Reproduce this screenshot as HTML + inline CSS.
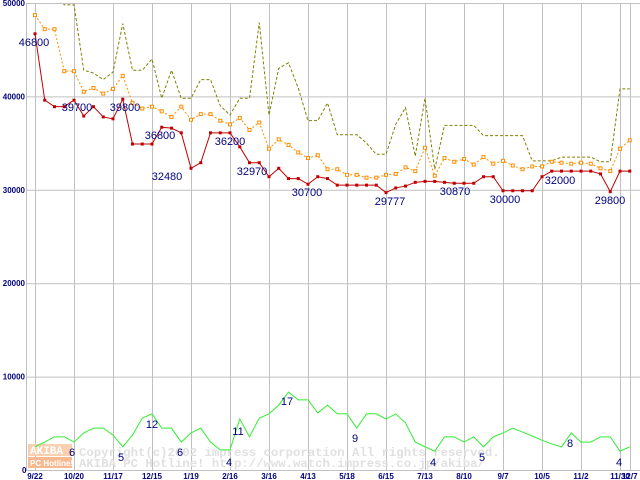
<!DOCTYPE html>
<html><head><meta charset="utf-8"><style>
body{margin:0;background:#fff;}
svg{display:block;font-family:"Liberation Sans",sans-serif;}
</style></head><body>
<svg id="chart" width="640" height="480" viewBox="0 0 640 480" xmlns="http://www.w3.org/2000/svg">
<defs><clipPath id="plot"><rect x="26" y="4" width="614" height="467"/></clipPath></defs>
<g id="grid"></g>
<g id="watermark">
  <rect x="28" y="444" width="44" height="12" fill="#f8d0b0"/>
  <rect x="28" y="457" width="44" height="11" fill="#f8b890"/>
  <text x="30" y="454" font-family="Liberation Mono,monospace" font-weight="bold" font-size="11" fill="#fff">AKIBA</text>
  <text x="30" y="466" font-family="Liberation Sans,sans-serif" font-weight="bold" font-size="8" fill="#fff">PC Hotline!</text>
  <text x="79" y="456" font-family="Liberation Mono,monospace" font-weight="bold" font-size="12.3" fill="#e0e0e0">Copyright(c)2002 impress corporation All rights reserved.</text>
  <text x="79" y="467" font-family="Liberation Mono,monospace" font-weight="bold" font-size="12.3" fill="#e0e0e0">AKIBA PC Hotline!  http://www.watch.impress.co.jp/akiba/</text>
</g>
<g id="series" clip-path="url(#plot)"></g>
<g id="labels"></g>
</svg>
<script>
const xTickLabels=["9/22","10/20","11/17","12/15","1/19","2/16","3/16","4/13","5/18","6/15","7/13","8/10","9/7","10/5","11/2","11/30","12/7"];
const xTickWeeks=[0,4,8,12,16,20,24,28,32,36,40,44,48,52,56,60,61];
const yTicks=[0,10000,20000,30000,40000,50000];
const minPrice=[46700,39600,38900,38900,39600,37900,38900,37800,37600,39700,34900,34900,34900,36700,36600,36100,32300,32900,36100,36100,36100,34600,32900,32900,31400,32300,31200,31200,30600,31400,31200,30500,30500,30500,30500,30500,29700,30200,30400,30800,30900,30900,30800,30700,30700,30700,31400,31400,29900,29900,29900,29900,31400,32000,32000,32000,32000,32000,31700,29800,32000,32000];
const avgPrice=[48700,47200,47200,42700,42700,40500,40900,40300,40800,42200,39300,38700,38900,38400,37800,38900,37500,38100,38100,37400,37000,37700,36400,37200,34400,35400,34800,34000,33400,33700,32200,32200,31600,31600,31300,31300,31600,31700,32400,32000,34500,31500,33400,33000,33300,32700,33500,32800,33100,32600,32200,32500,32500,33000,32900,32800,32900,32800,32300,32000,34400,35300];
const maxPrice=[50500,51500,51500,49800,49800,42800,42500,41800,42600,47800,42800,42800,44000,39800,42800,39800,39800,41800,41800,39000,38000,39800,39800,47900,38000,43000,43600,40900,37400,37400,39300,35900,35900,35900,35000,33800,33800,37000,38800,33600,39800,32200,36900,36900,36900,36900,35800,35800,35800,35800,35800,33100,33100,33100,33500,33500,33500,33500,33000,33000,40800,40800];
const shopCount=[4.4,5.5,6.7,6.7,5.5,7.6,8.7,8.7,7.1,4.4,7.1,11.0,12.0,8.7,8.7,5.5,7.6,8.7,5.5,3.7,3.7,10.8,6.7,11.0,12.0,14.0,17.0,15.2,15.2,12.2,14.0,12.0,12.0,8.7,12.0,12.0,10.8,12.0,9.9,5.5,4.4,3.4,6.7,6.7,5.5,6.7,4.4,6.7,7.6,8.7,7.8,6.9,5.9,5.1,4.4,7.6,5.5,5.5,6.7,6.7,3.4,4.4];
const priceLabels=[[0,"46800",34,46],[1,"39700",77,111],[9,"39800",125,111],[13,"36800",160,139],[16,"32480",167,180],[18,"36200",230,145],[22,"32970",252,175],[28,"30700",307,196],[36,"29777",390,205],[44,"30870",455,195],[48,"30000",505,203],[53,"32000",560,184],[59,"29800",610,204]];
const countLabels=[["6",72,456],["5",121,461],["12",152,428],["6",180,456],["4",229,466],["11",238,435],["17",287,405],["9",355,442],["4",433,466],["5",482,461],["8",570,447],["4",619,466]];

const NS="http://www.w3.org/2000/svg";
const X=w=>35+w*9.75;
const Y=v=>470-v*467/50000;
const YC=c=>466-c*4.35;
function mk(tag,attrs,parent){const e=document.createElementNS(NS,tag);for(const k in attrs)e.setAttribute(k,attrs[k]);parent.appendChild(e);return e;}
const grid=document.getElementById('grid'),series=document.getElementById('series'),labels=document.getElementById('labels');

yTicks.forEach((t,i)=>{
  const l=mk('line',{x1:26,x2:640,y1:Y(t)+0.5,y2:Y(t)+0.5,stroke:'#c0c0c0'},grid);
  
  
  if(t>0){const tx=mk('text',{x:25,y:Y(t)+3,'text-anchor':'end','font-size':'8','font-weight':'bold',fill:'#000080'},labels);
  tx.textContent=t;
  
  }
});
const z=mk('text',{x:22,y:473,'font-size':'8','font-weight':'bold',fill:'#000080'},labels);z.textContent='0';


const ax=mk('line',{x1:26.5,x2:26.5,y1:4,y2:471,stroke:'#c0c0c0'},grid);


xTickWeeks.forEach((w,i)=>{
  const x=Math.round(X(w))+0.5;
  const l=mk('line',{x1:x,x2:x,y1:4,y2:471,stroke:'#c0c0c0'},grid);
  
  
  const t=mk('text',{x:X(w),y:479,'text-anchor':'middle','font-size':'8','font-weight':'bold',fill:'#000080'},labels);
  t.textContent=xTickLabels[i];
  
  
});

function line(vals,f,color,dash,name){
  const p=mk('polyline',{points:vals.map((v,i)=>X(i)+','+f(v)).join(' '),fill:'none',stroke:color,'stroke-width':1,'stroke-dasharray':dash||'none'},series);
  
  
}
line(maxPrice,Y,'#808000','3,2','max-price-line');
line(shopCount,YC,'#33ee33','','shop-count-line');
line(avgPrice,Y,'#ff8c00','2,2','avg-price-line');
avgPrice.forEach((v,i)=>{const r=mk('rect',{x:X(i)-1.5,y:Y(v)-1.5,width:3,height:3,fill:'#fff',stroke:'#ff8c00','stroke-width':1},series);

});
line(minPrice,Y,'#c00000','','min-price-line');
minPrice.forEach((v,i)=>{const r=mk('rect',{x:X(i)-1.5,y:Y(v)-1.5,width:3,height:3,fill:'#c00000'},series);

});

priceLabels.forEach(d=>{const t=mk('text',{x:d[2],y:d[3],'text-anchor':'middle','font-size':'11',fill:'#000080'},labels);
t.textContent=d[1];

});
countLabels.forEach(d=>{const t=mk('text',{x:d[1],y:d[2],'text-anchor':'middle','font-size':'11',fill:'#000080'},labels);
t.textContent=d[0];

});
</script>
</body></html>
